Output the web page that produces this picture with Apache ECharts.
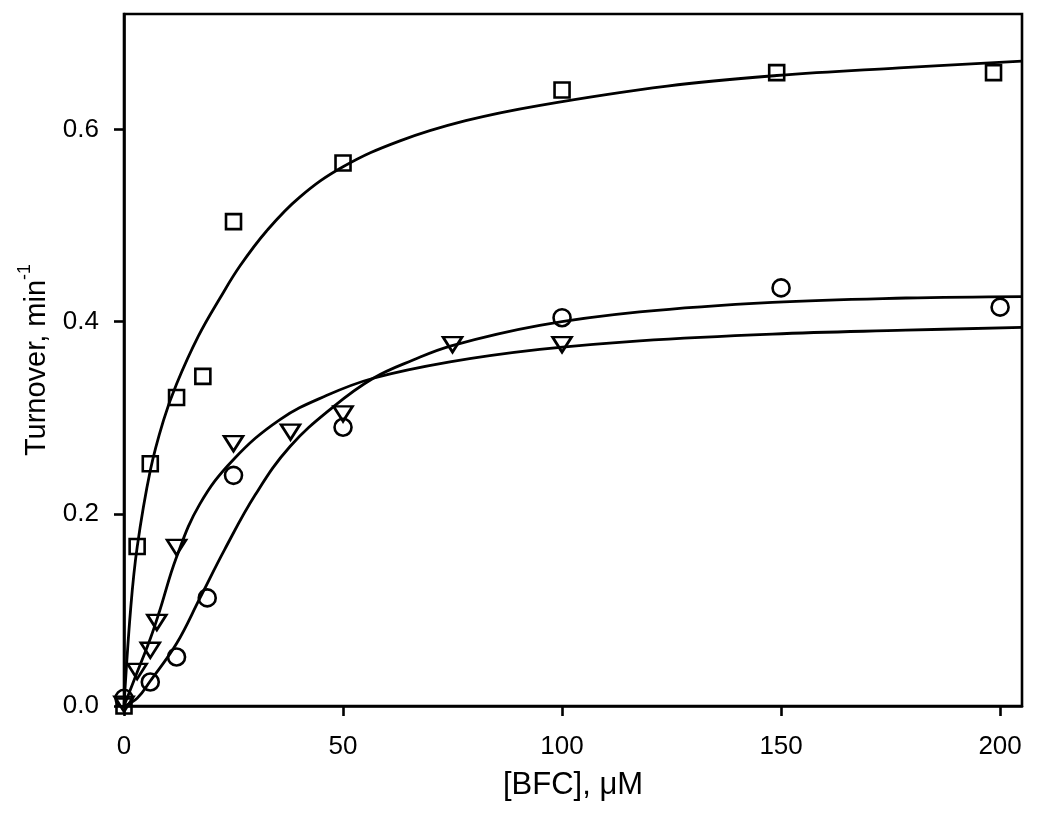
<!DOCTYPE html>
<html>
<head>
<meta charset="utf-8">
<script src="https://cdn.jsdelivr.net/npm/echarts@6/dist/echarts.min.js"></script>
<style>
  html, body { margin: 0; padding: 0; background: #fff; }
  #chart { width: 1050px; height: 820px; }
</style>
</head>
<body>
<div id="chart"></div>
<script>
// measured points, [BFC] in uM vs turnover in min^-1
var squarePts = [[0, 0], [3, 0.166], [6, 0.252], [12, 0.321], [18, 0.343], [25, 0.504],
    [50, 0.565], [100, 0.641], [149, 0.659], [198.5, 0.659]];
var trianglePts = [[0, 0.002], [3, 0.036], [6, 0.058], [7.5, 0.087], [12, 0.165], [25, 0.273],
    [38, 0.285], [50, 0.304], [75, 0.376], [100, 0.376]];
var circlePts = [[0, 0.008], [6, 0.025], [12, 0.051], [19, 0.1125], [25, 0.24], [50, 0.29],
    [100, 0.404], [150, 0.435], [200, 0.415]];

// fitted curves
var squareFit = [[0, 0], [1.5, 0.1], [3, 0.165], [6, 0.245], [9, 0.297], [12, 0.335],
    [17, 0.385], [22, 0.425], [26.5, 0.458], [32.5, 0.494], [40, 0.529], [50, 0.561],
    [63, 0.588], [78, 0.609], [95, 0.625], [124, 0.645], [149, 0.656], [177, 0.664],
    [205, 0.671]];
var triangleFit = [[0, 0], [3, 0.035], [6, 0.07], [8, 0.097], [12, 0.155], [17.3, 0.21],
    [24.9, 0.256], [35.6, 0.298], [46.2, 0.323], [56.9, 0.341], [74.4, 0.358], [94.9, 0.371],
    [117.7, 0.38], [148, 0.387], [178.5, 0.391], [205, 0.394]];
var circleFit = [[0, 0], [3, 0.008], [6, 0.026], [12, 0.065], [17.3, 0.112], [23, 0.163],
    [30, 0.22], [37.9, 0.27], [47.7, 0.311], [56.9, 0.341], [66, 0.36], [74.9, 0.375],
    [94.9, 0.396], [117.7, 0.41], [148, 0.42], [178.5, 0.4245], [205, 0.426]];

var xTicks = [0, 50, 100, 150, 200];
var yTicks = [0, 0.2, 0.4, 0.6];

var chart = echarts.init(document.getElementById('chart'));

var tickFont = {
    color: '#000',
    fontFamily: '"Liberation Sans", Arial, sans-serif',
    fontSize: 26
};

var fitLine = function (data) {
    return {
        type: 'line',
        data: data,
        smooth: 0.4,
        showSymbol: false,
        silent: true,
        z: 2,
        lineStyle: {color: '#000', width: 2.8}
    };
};

var points = function (data, symbol, size, rotate) {
    return {
        type: 'scatter',
        data: data,
        symbol: symbol,
        symbolSize: size,
        symbolRotate: rotate || 0,
        clip: false,
        z: 3,
        itemStyle: {color: 'transparent', borderColor: '#000', borderWidth: 2.6, opacity: 1}
    };
};

chart.setOption({
    backgroundColor: '#fff',
    animation: false,
    grid: {
        left: 124, right: 28, top: 14, bottom: 114,
        show: true, borderColor: '#000', borderWidth: 2.6,
        outerBoundsMode: 'none'
    },
    xAxis: {
        type: 'value',
        min: 0,
        max: 205,
        name: '[BFC], μM',
        nameLocation: 'middle',
        nameGap: 64,
        nameTextStyle: {color: '#000', fontSize: 31, fontFamily: '"Liberation Sans", Arial, sans-serif'},
        splitLine: {show: false},
        axisLine: {lineStyle: {color: '#000', width: 2.6}},
        axisTick: {inside: false, length: 10, lineStyle: {color: '#000', width: 2.6}, customValues: xTicks},
        axisLabel: Object.assign({margin: 28, customValues: xTicks}, tickFont)
    },
    yAxis: {
        type: 'value',
        min: 0,
        max: 0.72,
        name: '{a|Turnover, min}{b|-1}',
        nameLocation: 'middle',
        nameRotate: 90,
        nameGap: 70,
        nameTextStyle: {
            color: '#000',
            rich: {
                a: {fontSize: 29, lineHeight: 36, fontFamily: '"Liberation Sans", Arial, sans-serif', verticalAlign: 'bottom'},
                b: {fontSize: 18, lineHeight: 36, fontFamily: '"Liberation Sans", Arial, sans-serif', verticalAlign: 'top', padding: [0, 0, 14, 0]}
            }
        },
        splitLine: {show: false},
        axisLine: {lineStyle: {color: '#000', width: 2.6}},
        axisTick: {inside: false, length: 10, lineStyle: {color: '#000', width: 2.6}, customValues: yTicks},
        axisLabel: Object.assign({
            margin: 25,
            customValues: yTicks,
            formatter: function (v) { return v.toFixed(1); }
        }, tickFont)
    },
    series: [
        fitLine(squareFit),
        fitLine(triangleFit),
        fitLine(circleFit),
        points(squarePts, 'rect', 15),
        points(trianglePts, 'triangle', [19, 15], 180),
        points(circlePts, 'circle', 17)
    ]
});
</script>
</body>
</html>
